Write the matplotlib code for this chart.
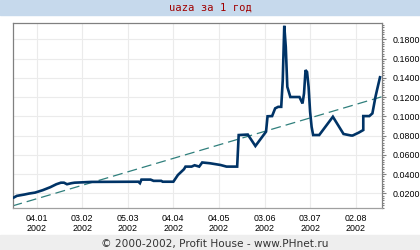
"""Recreate the 'uaza за 1 год' yearly price chart."""

import matplotlib

matplotlib.use("Agg")
import matplotlib.dates as mdates
import matplotlib.pyplot as plt
import pandas as pd
from matplotlib.ticker import FixedLocator, FormatStrFormatter, MultipleLocator

# price series
dates = [
    "2001-12-20", "2001-12-22", "2001-12-27", "2001-12-30", "2002-01-03",
    "2002-01-08", "2002-01-13", "2002-01-17", "2002-01-20", "2002-01-22",
    "2002-01-24", "2002-01-27", "2002-01-29", "2002-02-09", "2002-03-12",
    "2002-03-13", "2002-03-14", "2002-03-20", "2002-03-22", "2002-03-27",
    "2002-03-28", "2002-04-04", "2002-04-07", "2002-04-11", "2002-04-12",
    "2002-04-16", "2002-04-18", "2002-04-21", "2002-04-23", "2002-04-28",
    "2002-05-05", "2002-05-09", "2002-05-16", "2002-05-17", "2002-05-23",
    "2002-05-28", "2002-06-04", "2002-06-05", "2002-06-08", "2002-06-10",
    "2002-06-12", "2002-06-14", "2002-06-15", "2002-06-16", "2002-06-17",
    "2002-06-18", "2002-06-20", "2002-06-26", "2002-06-28", "2002-06-29",
    "2002-06-30", "2002-07-01", "2002-07-02", "2002-07-03", "2002-07-04",
    "2002-07-05", "2002-07-09", "2002-07-18", "2002-07-25", "2002-07-30",
    "2002-07-31", "2002-08-04", "2002-08-07", "2002-08-07", "2002-08-11",
    "2002-08-13", "2002-08-15", "2002-08-16", "2002-08-18",
]
prices = [
    0.0156, 0.0173, 0.0187, 0.0197, 0.0207,
    0.0232, 0.0263, 0.0294, 0.0310, 0.0310,
    0.0294, 0.0305, 0.0310, 0.0318, 0.0320,
    0.0305, 0.0342, 0.0342, 0.0329, 0.0329,
    0.0320, 0.0320, 0.0390, 0.0450, 0.0477,
    0.0477, 0.0491, 0.0477, 0.0520, 0.0512,
    0.0494, 0.0477, 0.0477, 0.0805, 0.0810,
    0.0691, 0.0840, 0.1000, 0.1002, 0.1082,
    0.1098, 0.1098, 0.1375, 0.1940, 0.1720,
    0.1306, 0.1200, 0.1200, 0.1133, 0.1237,
    0.1480, 0.1460, 0.1306, 0.1047, 0.0890,
    0.0805, 0.0805, 0.0995, 0.0816, 0.0800,
    0.0800, 0.0830, 0.0857, 0.1002, 0.1002,
    0.1030, 0.1200, 0.1270, 0.1405,
]

# trend line end points
trend_dates = ["2001-12-19", "2002-08-19"]
trend_values = [0.0068, 0.1202]

tick_dates = [
    "2002-01-04", "2002-02-03", "2002-03-05", "2002-04-04",
    "2002-05-04", "2002-06-03", "2002-07-03", "2002-08-02",
]
y_ticks = [0.02, 0.04, 0.06, 0.08, 0.10, 0.12, 0.14, 0.16, 0.18]

title = "uaza за 1 год"
footer = "© 2000-2002, Profit House - www.PHnet.ru"

fig = plt.figure(figsize=(4.2, 2.5), dpi=100)
fig.patch.set_facecolor("white")

# header and footer bands
fig.patches.append(plt.Rectangle((0, 1 - 15 / 250), 1, 15 / 250,
                                 transform=fig.transFigure, color="#c6d9ec", zorder=0))
fig.patches.append(plt.Rectangle((0, 0), 1, 15 / 250,
                                 transform=fig.transFigure, color="#eeeeee", zorder=0))
fig.text(0.5, 1 - 8 / 250, title, ha="center", va="center",
         family="DejaVu Sans Mono", fontsize=7.6, color="#a00000")
fig.text(0.512, 6.5 / 250, footer, ha="center", va="center",
         family="DejaVu Sans", fontsize=7.6, color="#333333")

ax = fig.add_axes([13.3 / 420, 1 - 208 / 250, (381.7 - 13.3) / 420, 185 / 250])
ax.set_facecolor("white")

x = pd.to_datetime(dates)
ax.plot(pd.to_datetime(trend_dates), trend_values, color="#2f7f7c",
        linewidth=0.9, dashes=(8, 4), zorder=2)
ax.plot(x, prices, color="#003366", linewidth=1.9, solid_joinstyle="miter", zorder=3)

ax.set_xlim(pd.Timestamp("2001-12-19 16:00"), pd.Timestamp("2002-08-19 03:00"))
ax.set_ylim(0.0047, 0.1969)

ax.xaxis.set_major_locator(FixedLocator(mdates.date2num(pd.to_datetime(tick_dates))))
ax.xaxis.set_major_formatter(mdates.DateFormatter("%d.%m\n%Y"))
ax.tick_params(axis="x", length=0, pad=4, labelsize=6.4)

ax.yaxis.tick_right()
ax.set_yticks(y_ticks)
ax.yaxis.set_major_formatter(FormatStrFormatter("%.4f"))
ax.yaxis.set_minor_locator(MultipleLocator(0.0025))
ax.tick_params(axis="y", which="major", length=3, width=0.8, color="#808080",
               pad=5, labelsize=6.4)
ax.tick_params(axis="y", which="minor", length=1.5, width=0.8, color="#808080")
for label in ax.get_xticklabels() + ax.get_yticklabels():
    label.set_family("Liberation Sans")
    label.set_linespacing(1.25)

ax.grid(True, which="major", color="#ebebeb", linewidth=0.8)
ax.set_axisbelow(True)
for side in ["left", "top", "right"]:
    ax.spines[side].set_color("#808080")
    ax.spines[side].set_linewidth(0.9)
ax.spines["bottom"].set_color("#a0a0a0")
ax.spines["bottom"].set_linewidth(0.9)

fig.savefig("out.png", dpi=100)
plt.close(fig)
